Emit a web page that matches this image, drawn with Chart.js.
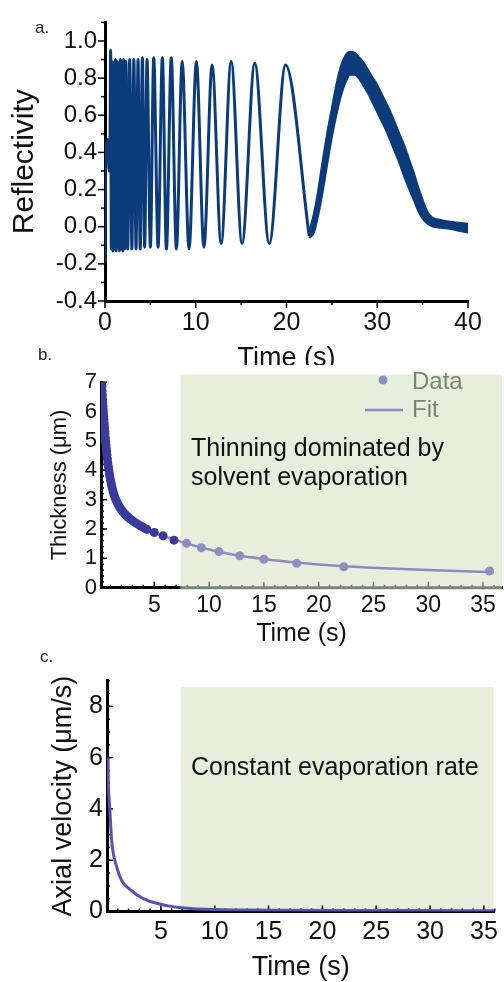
<!DOCTYPE html>
<html>
<head>
<meta charset="utf-8">
<script src="https://cdn.jsdelivr.net/npm/chart.js@4.4.1/dist/chart.umd.min.js"></script>
<style>
body{margin:0;background:#fff;width:504px;height:982px;position:relative;overflow:hidden;font-family:"Liberation Sans",Arial,sans-serif}
.panel{position:absolute;left:0;width:504px;overflow:hidden}
.tag{position:absolute;font-size:17px;line-height:20px;color:#222}
.note{position:absolute;left:191px;font-size:25px;line-height:29px;color:#111;white-space:nowrap}
</style>
</head>
<body>
<div class="panel" style="top:0;height:365px"><canvas id="chartA" width="504" height="380"></canvas></div>
<div class="panel" style="top:365px;height:285px"><canvas id="chartB" width="504" height="285"></canvas></div>
<div class="panel" style="top:650px;height:332px"><canvas id="chartC" width="504" height="340"></canvas></div>
<div class="tag" style="left:35px;top:18px">a.</div>
<div class="tag" style="left:38px;top:345px">b.</div>
<div class="tag" style="left:40px;top:647px">c.</div>
<div class="note" style="top:433px">Thinning dominated by<br>solvent evaporation</div>
<div class="note" style="top:752px">Constant evaporation rate</div>
<script>
const FONT = '"Liberation Sans", Arial, sans-serif';

// ---- a. reflectivity: fringe extremes ----
const reflT = [0, 0.04, 0.15, 0.3, 0.45, 0.55, 0.62, 0.70, 0.79, 0.88, 0.97, 1.06, 1.15, 1.24, 1.33, 1.42, 1.51,
  1.60, 1.69, 1.78, 1.87, 1.96, 2.05, 2.16, 2.30, 2.50, 2.72, 2.96, 3.18, 3.42, 3.64, 3.88, 4.12, 4.37, 4.63,
  5.0, 5.37, 5.85, 6.32, 6.77, 7.3, 7.87, 8.5, 9.26, 10.07, 10.9, 11.8, 12.8, 13.9, 15.1, 16.5, 18.1, 19.9, 22.5];
const reflR = [-0.19, 0.44, 0.36, 0.47, 0.30, 0.45, 0.95, -0.12, 0.89, -0.13, 0.88, -0.12, 0.90, -0.13, 0.89, -0.11, 0.88,
  -0.13, 0.90, -0.12, 0.89, -0.13, 0.90, -0.12, 0.89, -0.12, 0.90, -0.12, 0.90, -0.12, 0.90, -0.12, 0.91, -0.11, 0.90,
  -0.11, 0.91, -0.11, 0.91, -0.12, 0.91, -0.12, 0.89, -0.12, 0.89, -0.11, 0.87, -0.09, 0.89, -0.09, 0.88, -0.09, 0.87, -0.05];
// last broad fringe is noisy: upper and lower edge of the band
const bandT = [22.5, 23.0, 23.5, 24.0, 24.5, 25.0, 25.5, 26.0, 26.5, 27.0, 27.5, 28.0, 28.5, 29.0, 29.5, 30.0,
  30.5, 31.0, 31.5, 32.0, 32.5, 33.0, 33.5, 34.0, 34.5, 35.0, 35.5, 36.0, 37.0, 38.0, 39.0, 40.0];
const bandHi = [-0.03, 0.06, 0.19, 0.35, 0.50, 0.63, 0.76, 0.86, 0.92, 0.94, 0.935, 0.91, 0.88, 0.84, 0.80, 0.76,
  0.71, 0.66, 0.61, 0.55, 0.49, 0.43, 0.36, 0.29, 0.21, 0.14, 0.08, 0.05, 0.035, 0.025, 0.02, 0.015];
const bandLo = [-0.06, -0.03, 0.07, 0.20, 0.35, 0.49, 0.61, 0.71, 0.78, 0.82, 0.82, 0.80, 0.76, 0.72, 0.67, 0.62,
  0.57, 0.52, 0.46, 0.40, 0.34, 0.27, 0.21, 0.15, 0.09, 0.045, 0.02, 0.005, -0.005, -0.01, -0.02, -0.03];
const refTicksX = [0, 10, 20, 30, 40];
const refTicksY = [-0.4, -0.2, 0, 0.2, 0.4, 0.6, 0.8, 1.0];

// ---- b. film thickness ----
const thickT = [0.20, 0.22, 0.24, 0.26, 0.28, 0.30, 0.32, 0.34, 0.36, 0.38, 0.40, 0.42, 0.44, 0.46, 0.48, 0.50,
  0.53, 0.56, 0.59, 0.62, 0.65, 0.68, 0.72, 0.76, 0.80, 0.85, 0.90, 0.95, 1.00, 1.06, 1.12, 1.19, 1.26, 1.34,
  1.42, 1.51, 1.61, 1.72, 1.84, 1.97, 2.11, 2.26, 2.42, 2.59, 2.77, 2.96, 3.16, 3.37, 3.59, 3.82, 4.06, 4.32,
  5.0, 5.8, 6.8, 7.95, 9.3, 10.9, 12.8, 15.0, 18.0, 22.3, 35.6];
const thickH = [7.00, 6.85, 6.70, 6.56, 6.42, 6.30, 6.18, 6.06, 5.95, 5.84, 5.73, 5.62, 5.52, 5.42, 5.33, 5.24,
  5.11, 4.98, 4.86, 4.74, 4.63, 4.52, 4.39, 4.26, 4.14, 4.01, 3.89, 3.78, 3.67, 3.56, 3.45, 3.35, 3.25, 3.15,
  3.06, 2.98, 2.90, 2.82, 2.74, 2.67, 2.60, 2.53, 2.47, 2.41, 2.35, 2.30, 2.24, 2.19, 2.14, 2.09, 2.04, 1.99,
  1.88, 1.77, 1.62, 1.51, 1.36, 1.23, 1.09, 0.97, 0.83, 0.71, 0.57];
const fitT = [0.2, 0.3, 0.5, 0.8, 1.2, 2, 3, 4, 5, 6, 7, 8, 10, 12, 15, 18, 22, 26, 30, 36];
const fitH = [7.0, 6.3, 5.24, 4.14, 3.33, 2.66, 2.29, 2.05, 1.88, 1.74, 1.62, 1.5, 1.3, 1.14, 0.98, 0.86, 0.74, 0.66, 0.6, 0.53];
const thickTicksX = [5, 10, 15, 20, 25, 30, 35];
const thickTicksY = [0, 1, 2, 3, 4, 5, 6, 7];
const evapB = [7.4, 36.73, 7.26];   // shaded region: from, to, top

// ---- c. axial velocity ----
const velT = [0.1, 0.12, 0.2, 0.28, 0.35, 0.43, 0.55, 0.76, 1.0, 1.2, 1.5, 2.0, 2.5, 2.9, 3.5, 4.1, 5.0, 5.67, 6.9,
  8, 10, 13, 17, 22, 28, 36];
const velV = [6.0, 5.16, 4.4, 3.85, 3.3, 2.8, 2.35, 1.95, 1.6, 1.36, 1.12, 0.91, 0.74, 0.61, 0.48, 0.38, 0.28, 0.22, 0.15,
  0.11, 0.08, 0.06, 0.05, 0.04, 0.035, 0.03];
const velTicksX = [5, 10, 15, 20, 25, 30, 35];
const velTicksY = [0, 2, 4, 6, 8];
const evapC = [6.85, 35.9, 8.76];

const NAVY = '#0b3b7a';
const DARK_DOT = '#3b3b9c';
const LIGHT_DOT = '#8e8ec0';
const GREEN = '#e7eedb';
const TINT = '#7a8476';

function pts(xs, ys) { return xs.map((x, i) => ({x: x, y: ys[i]})); }
function steps(a, b, s) { const out = []; for (let v = a; v <= b + 1e-9; v += s) out.push(+v.toFixed(4)); return out; }

// shaded band, tick marks and legend
const frame = {
  id: 'frame',
  beforeDraw(chart, args, o) {
    if (o.shade && !o.shade.over) shade(chart, o.shade);
  },
  beforeDatasetsDraw(chart, args, o) {
    const ctx = chart.ctx, a = chart.chartArea;
    if (o.shade && o.shade.over) {
      shade(chart, o.shade);
      const x0 = chart.scales.x.getPixelForValue(o.shade.range[0]);
      ctx.save();
      ctx.strokeStyle = TINT; ctx.lineWidth = 3;
      ctx.beginPath(); ctx.moveTo(x0, a.bottom); ctx.lineTo(a.right, a.bottom); ctx.stroke();
      ctx.restore();
    }
    (o.marks || []).forEach(m => {
      const sc = chart.scales[m.axis];
      ctx.save();
      ctx.lineWidth = m.width || 1.5;
      m.values.forEach(v => {
        const p = sc.getPixelForValue(v);
        ctx.strokeStyle = (o.shade && o.shade.over && m.axis === 'x' && v >= o.shade.range[0]) ? TINT : '#000';
        ctx.beginPath();
        if (m.axis === 'x') {
          const y = a.bottom;
          ctx.moveTo(p, y); ctx.lineTo(p, m.inward ? y - m.len : y + m.len);
        } else {
          const x = a.left;
          ctx.moveTo(x, p); ctx.lineTo(m.inward ? x + m.len : x - m.len, p);
        }
        ctx.stroke();
      });
      ctx.restore();
    });
  },
  afterDraw(chart, args, o) {
    if (!o.legend) return;
    const ctx = chart.ctx, L = o.legend, ds = chart.data.datasets;
    ctx.save();
    ctx.font = '24px ' + FONT;
    ctx.fillStyle = L.color; ctx.textBaseline = 'middle';
    ctx.fillText(ds[0].label, L.x, L.y);
    ctx.fillText(ds[1].label, L.x, L.y + L.gap);
    ctx.fillStyle = LIGHT_DOT;
    ctx.beginPath(); ctx.arc(L.x - 29, L.y - 2, 4.5, 0, Math.PI * 2); ctx.fill();
    ctx.strokeStyle = ds[1].borderColor; ctx.lineWidth = 2.5;
    ctx.beginPath(); ctx.moveTo(L.x - 47, L.y + L.gap); ctx.lineTo(L.x - 9, L.y + L.gap); ctx.stroke();
    ctx.restore();
  }
};

function shade(chart, s) {
  const ctx = chart.ctx, a = chart.chartArea;
  const x0 = chart.scales.x.getPixelForValue(s.range[0]);
  const x1 = chart.scales.x.getPixelForValue(s.range[1]);
  const yt = chart.scales.y.getPixelForValue(s.range[2]);
  ctx.save();
  ctx.fillStyle = GREEN;
  ctx.fillRect(x0, yt, x1 - x0, a.bottom - yt);
  ctx.restore();
}

function axis(opts) {
  return Object.assign({
    type: 'linear',
    grid: {display: false, drawTicks: false},
    border: {display: true, color: '#000', width: 3}
  }, opts);
}

// ---------- a ----------
new Chart(document.getElementById('chartA'), {
  type: 'line',
  data: {
    datasets: [
      {data: pts(reflT, reflR), borderColor: NAVY, borderWidth: 3, pointRadius: 0, cubicInterpolationMode: 'monotone', fill: false},
      {data: pts(bandT, bandHi), borderColor: NAVY, backgroundColor: NAVY, borderWidth: 2.5, pointRadius: 0, cubicInterpolationMode: 'monotone', fill: '+1'},
      {data: pts(bandT, bandLo), borderColor: NAVY, borderWidth: 2.5, pointRadius: 0, cubicInterpolationMode: 'monotone', fill: false}
    ]
  },
  options: {
    responsive: false, animation: false,
    layout: {autoPadding: false, padding: {left: 0, top: 16, right: 36, bottom: 0}},
    plugins: {
      legend: {display: false}, tooltip: {enabled: false},
      frame: {marks: [
        {axis: 'x', values: refTicksX, len: 7},
        {axis: 'x', values: [5, 15, 25, 35], len: 4},
        {axis: 'y', values: refTicksY, len: 7},
        {axis: 'y', values: steps(-0.3, 1.1, 0.2), len: 4}
      ]}
    },
    scales: {
      x: axis({min: 0, max: 40,
        afterBuildTicks: s => { s.ticks = refTicksX.map(v => ({value: v})); },
        afterFit: s => { s.height = 79; },
        ticks: {font: {size: 25, family: FONT}, color: '#111', padding: 7, maxRotation: 0, autoSkip: false},
        title: {display: true, text: 'Time (s)', font: {size: 27, family: FONT}, color: '#111', padding: {top: 0, bottom: 5}}
      }),
      y: axis({min: -0.4, max: 1.1,
        afterBuildTicks: s => { s.ticks = refTicksY.map(v => ({value: v})); },
        afterFit: s => { s.width = 105; },
        ticks: {font: {size: 24, family: FONT}, color: '#111', padding: 8, autoSkip: false, callback: v => v.toFixed(1)},
        title: {display: true, text: 'Reflectivity', font: {size: 30, family: FONT}, color: '#111', padding: {top: 7, bottom: 0}}
      })
    }
  },
  plugins: [frame]
});

// ---------- b ----------
new Chart(document.getElementById('chartB'), {
  type: 'line',
  data: {
    datasets: [
      {label: 'Data', data: pts(thickT, thickH), showLine: false, pointRadius: 4.5, pointBorderWidth: 0,
        pointBackgroundColor: c => (c.raw && c.raw.x >= evapB[0]) ? LIGHT_DOT : DARK_DOT},
      {label: 'Fit', data: pts(fitT, fitH), borderColor: '#8a8cc0', borderWidth: 2.5, pointRadius: 0, cubicInterpolationMode: 'monotone'}
    ]
  },
  options: {
    responsive: false, animation: false,
    layout: {autoPadding: false, padding: {left: 0, top: 12.7, right: 2, bottom: 0}},
    plugins: {
      legend: {display: false}, tooltip: {enabled: false},
      frame: {
        shade: {range: evapB, over: true},
        legend: {x: 412, y: 17, gap: 28, color: TINT},
        marks: [
          {axis: 'x', values: thickTicksX, len: 6, inward: true},
          {axis: 'x', values: steps(1, 36, 1), len: 3, inward: true},
          {axis: 'y', values: thickTicksY, len: 6, inward: true},
          {axis: 'y', values: steps(0.2, 7, 0.2), len: 3, inward: true}
        ]
      }
    },
    scales: {
      x: axis({min: 0.136, max: 36.73,
        afterBuildTicks: s => { s.ticks = thickTicksX.map(v => ({value: v})); },
        afterFit: s => { s.height = 62.3; },
        ticks: {font: {size: 23, family: FONT}, color: '#111', padding: 4, maxRotation: 0, autoSkip: false},
        title: {display: true, text: 'Time (s)', font: {size: 25, family: FONT}, color: '#111', padding: {top: 0, bottom: 1}}
      }),
      y: axis({min: 0, max: 7,
        afterBuildTicks: s => { s.ticks = thickTicksY.map(v => ({value: v})); },
        afterFit: s => { s.width = 101; },
        ticks: {font: {size: 22, family: FONT}, color: '#111', padding: 4, autoSkip: false},
        title: {display: true, text: 'Thickness (μm)', font: {size: 22, family: FONT}, color: '#111', padding: {top: 47, bottom: 0}}
      })
    }
  },
  plugins: [frame]
});

// ---------- c ----------
new Chart(document.getElementById('chartC'), {
  type: 'line',
  data: {
    datasets: [
      {data: pts(velT, velV), borderColor: '#5454b4', borderWidth: 3, pointRadius: 0, cubicInterpolationMode: 'monotone'}
    ]
  },
  options: {
    responsive: false, animation: false,
    layout: {autoPadding: false, padding: {left: 0, top: 30.7, right: 6, bottom: 0}},
    plugins: {
      legend: {display: false}, tooltip: {enabled: false},
      frame: {
        shade: {range: evapC, over: false},
        marks: [
          {axis: 'x', values: velTicksX, len: 6, inward: true},
          {axis: 'x', values: steps(1, 36, 1), len: 3, inward: true},
          {axis: 'y', values: velTicksY, len: 6, inward: true},
          {axis: 'y', values: steps(0.5, 9, 0.5), len: 3, inward: true}
        ]
      }
    },
    scales: {
      x: axis({min: 0, max: 36,
        afterBuildTicks: s => { s.ticks = velTicksX.map(v => ({value: v})); },
        afterFit: s => { s.height = 78.5; },
        ticks: {font: {size: 25, family: FONT}, color: '#111', padding: 6, maxRotation: 0, autoSkip: false},
        title: {display: true, text: 'Time (s)', font: {size: 27, family: FONT}, color: '#111', padding: {top: 0, bottom: 6}}
      }),
      y: axis({min: 0, max: 9,
        afterBuildTicks: s => { s.ticks = velTicksY.map(v => ({value: v})); },
        afterFit: s => { s.width = 107; },
        ticks: {font: {size: 25, family: FONT}, color: '#111', padding: 4, autoSkip: false},
        title: {display: true, text: 'Axial velocity (μm/s)', font: {size: 27, family: FONT}, color: '#111', padding: {top: 47, bottom: 0}}
      })
    }
  },
  plugins: [frame]
});
</script>
</body>
</html>
